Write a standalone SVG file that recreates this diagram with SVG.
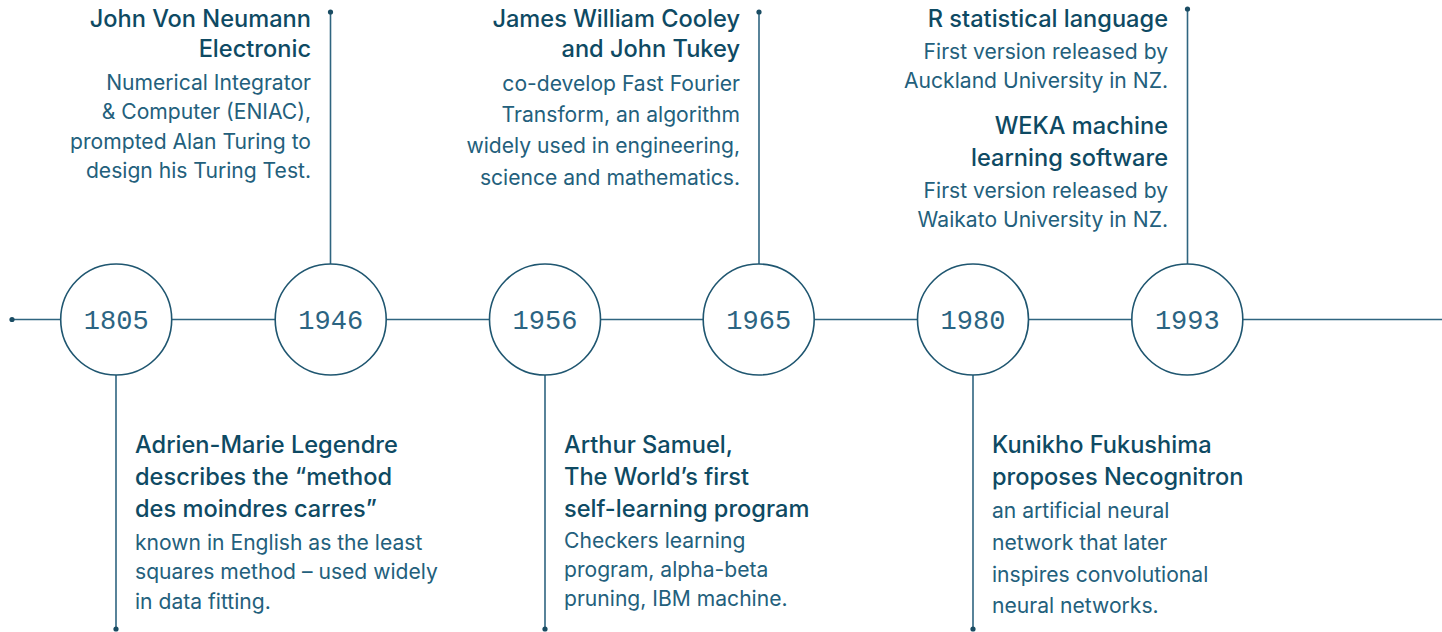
<svg xmlns="http://www.w3.org/2000/svg" width="1442" height="632" viewBox="0 0 1442 632">
<style>
.ln{stroke:#2f6580;stroke-width:1.6;fill:none}
.dot{fill:#1a4c63}
.cir{fill:#fff;stroke:#1f5670;stroke-width:1.6}
.yr{font-family:"Liberation Mono",monospace;font-size:27px;fill:#2b6482;text-anchor:middle}
.h{font-family:Inter,"Noto Sans",sans-serif;font-size:23.6px;font-weight:500;fill:#0e4a63}
.b{font-family:Inter,"Noto Sans",sans-serif;font-size:21.1px;font-weight:400;fill:#23607c}
.r{text-anchor:end}
</style>
<rect width="1442" height="632" fill="#fff"/>
<g id="connectors">
<line class="ln" x1="12" y1="319.5" x2="1442" y2="319.5"/>
<circle class="dot" cx="12" cy="319.5" r="2.6"/>
<line class="ln" x1="116" y1="375" x2="116" y2="629"/>
<circle class="dot" cx="116" cy="629" r="2.6"/>
<line class="ln" x1="330.5" y1="12" x2="330.5" y2="264"/>
<circle class="dot" cx="330.5" cy="12" r="2.6"/>
<line class="ln" x1="545" y1="375" x2="545" y2="629"/>
<circle class="dot" cx="545" cy="629" r="2.6"/>
<line class="ln" x1="759" y1="12" x2="759" y2="264"/>
<circle class="dot" cx="759" cy="12" r="2.6"/>
<line class="ln" x1="973" y1="375" x2="973" y2="629"/>
<circle class="dot" cx="973" cy="629" r="2.6"/>
<line class="ln" x1="1187.5" y1="9" x2="1187.5" y2="264"/>
<circle class="dot" cx="1187.5" cy="9" r="2.6"/>
</g>
<g id="y1805"><circle class="cir" cx="116.2" cy="319.5" r="55.5"/><text class="yr" x="116.2" y="329">1805</text></g>
<g id="y1946"><circle class="cir" cx="330.7" cy="319.5" r="55.5"/><text class="yr" x="330.7" y="329">1946</text></g>
<g id="y1956"><circle class="cir" cx="545" cy="319.5" r="55.5"/><text class="yr" x="545" y="329">1956</text></g>
<g id="y1965"><circle class="cir" cx="758.7" cy="319.5" r="55.5"/><text class="yr" x="758.7" y="329">1965</text></g>
<g id="y1980"><circle class="cir" cx="973" cy="319.5" r="55.5"/><text class="yr" x="973" y="329">1980</text></g>
<g id="y1993"><circle class="cir" cx="1187.3" cy="319.5" r="55.5"/><text class="yr" x="1187.3" y="329">1993</text></g>
<g id="t1946">
<text class="h r" x="311" y="27">John Von Neumann</text>
<text class="h r" x="311" y="57">Electronic</text>
<text class="b r" x="311" y="90">Numerical Integrator</text>
<text class="b r" x="311" y="119">&amp; Computer (ENIAC),</text>
<text class="b r" x="311" y="148.5">prompted Alan Turing to</text>
<text class="b r" x="311" y="177.5">design his Turing Test.</text>
</g>
<g id="t1965">
<text class="h r" x="740" y="27">James William Cooley</text>
<text class="h r" x="740" y="57">and John Tukey</text>
<text class="b r" x="740" y="90.5">co-develop Fast Fourier</text>
<text class="b r" x="740" y="121.5">Transform, an algorithm</text>
<text class="b r" x="740" y="153">widely used in engineering,</text>
<text class="b r" x="740" y="185">science and mathematics.</text>
</g>
<g id="t1993">
<text class="h r" x="1168" y="27">R statistical language</text>
<text class="b r" x="1168" y="59">First version released by</text>
<text class="b r" x="1168" y="87.5">Auckland University in NZ.</text>
<text class="h r" x="1168" y="133.5">WEKA machine</text>
<text class="h r" x="1168" y="166">learning software</text>
<text class="b r" x="1168" y="197.5">First version released by</text>
<text class="b r" x="1168" y="226.5">Waikato University in NZ.</text>
</g>
<g id="t1805">
<text class="h" x="135" y="453">Adrien-Marie Legendre</text>
<text class="h" x="135" y="485">describes the “method</text>
<text class="h" x="135" y="517">des moindres carres”</text>
<text class="b" x="135" y="550">known in English as the least</text>
<text class="b" x="135" y="579">squares method – used widely</text>
<text class="b" x="135" y="608.5">in data fitting.</text>
</g>
<g id="t1956">
<text class="h" x="564" y="453">Arthur Samuel,</text>
<text class="h" x="564" y="485">The World’s first</text>
<text class="h" x="564" y="517">self-learning program</text>
<text class="b" x="564" y="548">Checkers learning</text>
<text class="b" x="564" y="577">program, alpha-beta</text>
<text class="b" x="564" y="606">pruning, IBM machine.</text>
</g>
<g id="t1980">
<text class="h" x="992" y="453">Kunikho Fukushima</text>
<text class="h" x="992" y="485">proposes Necognitron</text>
<text class="b" x="992" y="518">an artificial neural</text>
<text class="b" x="992" y="549.5">network that later</text>
<text class="b" x="992" y="581.5">inspires convolutional</text>
<text class="b" x="992" y="613">neural networks.</text>
</g>
</svg>
